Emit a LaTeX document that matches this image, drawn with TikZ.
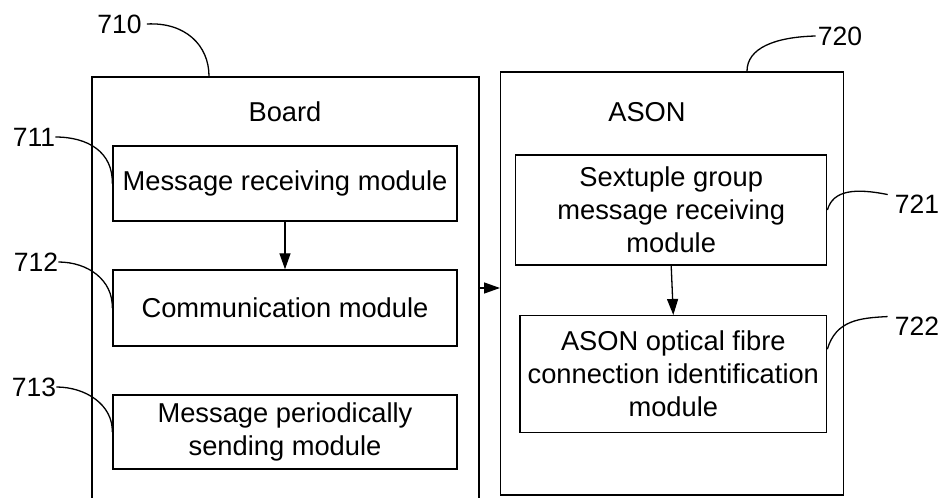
\documentclass[tikz,border=0pt]{standalone}
\usepackage{fontspec}
\setmainfont{Liberation Sans}
\usetikzlibrary{arrows.meta}
\tikzset{
  txt/.style={font=\fontsize{27.3}{33}\selectfont},
  numtxt/.style={font=\fontsize{26.5}{33}\selectfont},
  outerbox/.style={draw, line width=1.4pt, inner sep=0pt},
  modbox/.style={draw, line width=1.4pt, inner sep=0pt, align=center, txt},
  num/.style={inner sep=0pt, numtxt},
  arr/.style={line width=1.3pt, -{Triangle[length=16pt,width=11pt]}},
  lead/.style={line width=1.3pt},
}
\begin{document}
\begin{tikzpicture}[x=1pt,y=-1pt]
\useasboundingbox (0,0) rectangle (946,498);
\clip (0,0) rectangle (946,498);
% outer boxes
\node[outerbox, minimum width=387pt, minimum height=440pt] (board) at (285.5,297) {};
\node[outerbox, minimum width=342.6pt, minimum height=423pt] (ason) at (672,283.5) {};
\node[txt] (boardt) at (285,112) {Board};
\node[txt] (asont) at (647,112) {ASON};
% modules
\node[modbox, minimum width=344pt, minimum height=75pt] (mrm) at (285,183.5) {Message receiving module};
\node[modbox, minimum width=344pt, minimum height=76pt] (com) at (285,308) {Communication module};
\node[modbox, minimum width=344pt, minimum height=74pt] (mps) at (285,432) {Message periodically\\sending module};
\node[modbox, minimum width=311pt, minimum height=110pt] (sgm) at (671.2,210) {Sextuple group\\message receiving\\module};
\node[modbox, minimum width=306.7pt, minimum height=117pt] (aof) at (673.3,374.2) {ASON optical fibre\\connection identification\\module};
% arrows
\draw[arr] (mrm.south) -- (com.north);
\draw[arr] (sgm.south) -- (aof.north);
\coordinate (ay) at (0,288);
\draw[arr] (board.east |- ay) -- (ason.west |- ay);
% reference numbers
\node[num] (l710) at (119.5,24) {710};
\node[num] (l711) at (34,137) {711};
\node[num] (l712) at (36,262) {712};
\node[num] (l713) at (34,387) {713};
\node[num] (l720) at (840,36) {720};
\node[num] (l721) at (917,204) {721};
\node[num] (l722) at (917,326) {722};
% leader lines
\draw[lead] ([xshift=5pt]l710.east) .. controls (185,22) and (209,45) .. ([xshift=-76.5pt]board.north);
\draw[lead] (l711.east) .. controls (88,137) and (113,152) .. (mrm.west);
\draw[lead] (l712.east) .. controls (88,262) and (113,280) .. (com.west);
\draw[lead] (l713.east) .. controls (86,387) and (113,405) .. (mps.west);
\draw[lead] ([xshift=-2pt]l720.west) .. controls (775,37) and (747,48) .. ([xshift=75pt]ason.north);
\draw[lead] (sgm.east) .. controls (833,190) and (855,188) .. ([xshift=-7pt]l721.north west);
\draw[lead] ([yshift=25pt]aof.east) .. controls (836,320) and (860,318) .. ([xshift=-7pt]l722.north west);
\end{tikzpicture}
\end{document}
